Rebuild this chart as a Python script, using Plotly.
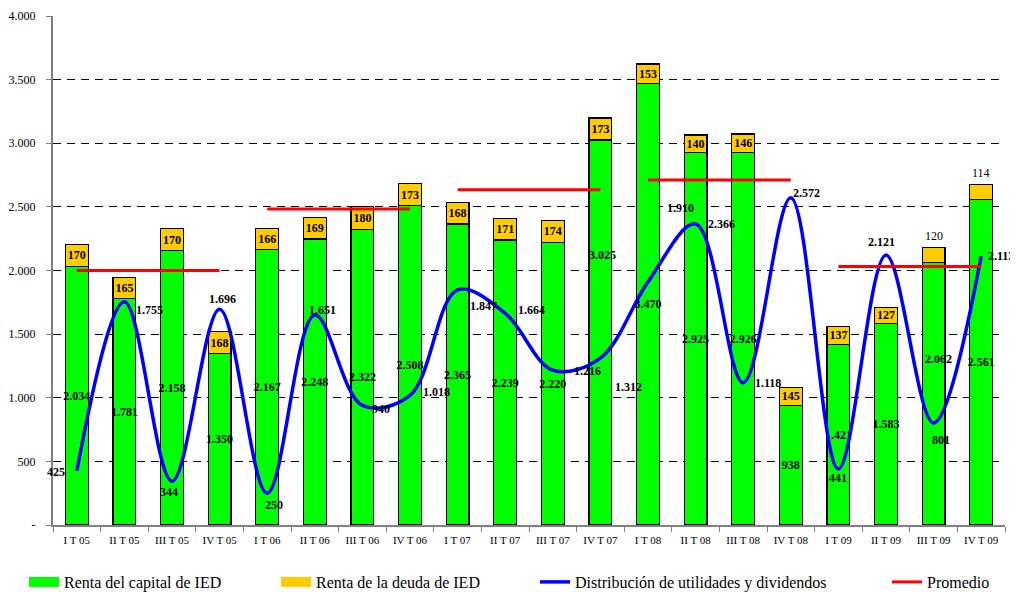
import plotly.graph_objects as go

quarters = ["I T 05", "II T 05", "III T 05", "IV T 05",
            "I T 06", "II T 06", "III T 06", "IV T 06",
            "I T 07", "II T 07", "III T 07", "IV T 07",
            "I T 08", "II T 08", "III T 08", "IV T 08",
            "I T 09", "II T 09", "III T 09", "IV T 09"]
renta_capital = [2034, 1781, 2158, 1350, 2167, 2248, 2322, 2508, 2365, 2239,
                 2220, 3025, 3470, 2925, 2926, 938, 1421, 1583, 2062, 2561]
renta_deuda = [170, 165, 170, 168, 166, 169, 180, 173, 168, 171,
               174, 173, 153, 140, 146, 145, 137, 127, 120, 114]
distribucion = [425, 1755, 344, 1696, 250, 1651, 940, 1018, 1847, 1664,
                1216, 1312, 1910, 2366, 1118, 2572, 441, 2121, 801, 2113]
promedio_years = [("I T 05", "IV T 05"), ("I T 06", "IV T 06"), ("I T 07", "IV T 07"),
                  ("I T 08", "IV T 08"), ("I T 09", "IV T 09")]
promedio_values = [2000, 2483, 2634, 2711, 2031]
y_tick_values = [0, 500, 1000, 1500, 2000, 2500, 3000, 3500, 4000]
y_tick_labels = ["-", "500", "1.000", "1.500", "2.000", "2.500", "3.000", "3.500", "4.000"]

# label styling (offsets in pixels)
dist_label_shift = [(-21, -1), (25, -8), (-3, -11), (3, 10), (7, -12), (8, 5), (19, -4),
                    (26, 3), (26, -16), (26, 3), (35, -1), (28, -29), (32, 74), (26, 0),
                    (25, 0), (16, 5), (0, -9), (-5, 13), (7, -17), (20, 0)]
capital_moved = {11: (2, 78), 18: (5, 35)}
deuda_outside = {18: 11, 19: 12}

FONT = "Liberation Serif"
GREEN = "#00FF00"
YELLOW = "#FFCC00"
BLUE = "#0000FF"
RED = "#FF0000"

# the page body adds an 8px offset; figure is sized so the plot lands where the reference has it
FIG_W, FIG_H = 1010, 584


def fmt(v):
    return f"{v:,}".replace(",", ".")


cap_text = ["" if i in capital_moved else fmt(v) for i, v in enumerate(renta_capital)]
deu_text = ["" if i in deuda_outside else fmt(v) for i, v in enumerate(renta_deuda)]

fig = go.Figure()
fig.add_trace(go.Bar(
    x=quarters, y=renta_capital, name="Renta del capital de IED",
    marker=dict(color=GREEN, line=dict(color="black", width=1.2)),
    text=cap_text, textposition="inside", insidetextanchor="middle",
    constraintext="none", textangle=0,
    textfont=dict(family=FONT, size=12, color="black", weight="bold"),
    showlegend=False, hoverinfo="skip"))
fig.add_trace(go.Bar(
    x=quarters, y=renta_deuda, name="Renta de la deuda de IED",
    marker=dict(color=YELLOW, line=dict(color="black", width=1.2)),
    text=deu_text, textposition="inside", insidetextanchor="middle",
    constraintext="none", textangle=0,
    textfont=dict(family=FONT, size=12, color="black", weight="bold"),
    showlegend=False, hoverinfo="skip"))

fig.add_trace(go.Scatter(
    x=quarters, y=distribucion, mode="lines", name="Distribución de utilidades y dividendos",
    line=dict(color=BLUE, width=3.5, shape="spline", smoothing=1.0),
    legend="legend3", hoverinfo="skip"))

px_, py_ = [], []
for (a, b), v in zip(promedio_years, promedio_values):
    px_ += [a, b, None]
    py_ += [v, v, None]
fig.add_trace(go.Scatter(
    x=px_, y=py_, mode="lines", name="Promedio",
    line=dict(color=RED, width=3), legend="legend4", hoverinfo="skip"))

# legend swatches for bars (wide rectangles)
fig.add_trace(go.Scatter(x=[None], y=[None], mode="lines", name="Renta del capital de IED",
                         line=dict(color=GREEN, width=11), legend="legend"))
fig.add_trace(go.Scatter(x=[None], y=[None], mode="lines", name="Renta de la deuda de IED",
                         line=dict(color=YELLOW, width=11), legend="legend2"))

annotations = []
for i, (q, v) in enumerate(zip(quarters, distribucion)):
    dx, dy = dist_label_shift[i]
    annotations.append(dict(x=q, y=v, text=fmt(v), showarrow=False, xshift=dx, yshift=dy,
                            font=dict(family=FONT, size=12, color="black", weight="bold")))
for i, (dx, dy) in capital_moved.items():
    annotations.append(dict(x=quarters[i], y=renta_capital[i] / 2, text=fmt(renta_capital[i]),
                            showarrow=False, xshift=dx, yshift=dy,
                            font=dict(family=FONT, size=12, color="black", weight="bold")))
for i, dy in deuda_outside.items():
    annotations.append(dict(x=quarters[i], y=renta_capital[i] + renta_deuda[i],
                            text=fmt(renta_deuda[i]), showarrow=False, yshift=dy,
                            font=dict(family=FONT, size=12, color="#000000")))

leg_common = dict(orientation="h", xref="container", yref="container", xanchor="left",
                  yanchor="middle", bgcolor="rgba(0,0,0,0)",
                  font=dict(family=FONT, size=16, color="black"))
ly = 1 - 574 / FIG_H

fig.update_layout(
    width=FIG_W, height=FIG_H, autosize=False,
    margin=dict(l=45, r=13, t=8, b=67, autoexpand=False),
    paper_bgcolor="white", plot_bgcolor="white",
    barmode="stack", bargap=0.52,
    separators=",.",
    font=dict(family=FONT, color="black"),
    annotations=annotations,
    legend=dict(x=16 / FIG_W, y=ly, **leg_common),
    legend2=dict(x=268 / FIG_W, y=ly, **leg_common),
    legend3=dict(x=527 / FIG_W, y=ly, **leg_common),
    legend4=dict(x=879 / FIG_W, y=ly, **leg_common),
    xaxis=dict(type="category", range=[-0.5, 19.5], showline=True, linecolor="#808080",
               linewidth=1.5, ticks="outside", tickson="boundaries", ticklen=5,
               tickcolor="#808080", showgrid=False, zeroline=False, automargin=False,
               tickfont=dict(family=FONT, size=11, color="black"), ticklabelstandoff=4),
    yaxis=dict(range=[0, 4000], tickvals=y_tick_values, ticktext=y_tick_labels,
               showline=True, linecolor="#808080", linewidth=2, ticks="outside",
               ticklen=5, tickcolor="#808080", showgrid=True, gridcolor="black",
               gridwidth=1, griddash="8px,6px", zeroline=False, automargin=False,
               tickfont=dict(family=FONT, size=12, color="black"), ticklabelstandoff=8),
)

fig.write_html("out.html")
